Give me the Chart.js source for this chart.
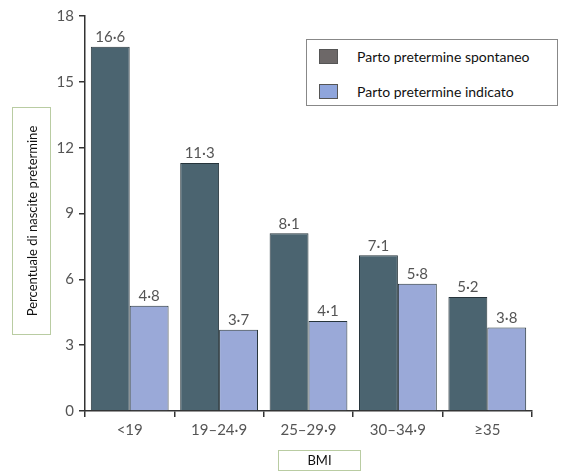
<!DOCTYPE html>
<html>
<head>
<meta charset="utf-8">
<script src="https://cdn.jsdelivr.net/npm/chart.js@4.4.1/dist/chart.umd.min.js"></script>
<style>
  html, body { margin: 0; padding: 0; background: #fff; }
  #wrap { position: relative; width: 563px; height: 473px; font-family: Lato, 'Open Sans', sans-serif; }
  #chart { position: absolute; left: 0; top: 0; }
  .legend { position: absolute; left: 306px; top: 39px; width: 252px; height: 67px; border: 1px solid #888; box-sizing: border-box; background: #fff; }
  .legend .row { position: absolute; left: 12px; display: flex; align-items: center; font-size: 14px; color: #111; }
  .legend .sw { width: 19px; height: 15px; border: 1px solid #555; box-sizing: border-box; margin-right: 19px; }
  .ybox { position: absolute; left: 12px; top: 107px; width: 39px; height: 228px; border: 1px solid #b9cca2; box-sizing: border-box; }
  .ybox span { position: absolute; left: 50%; top: 50%; transform: translate(-50%, -50%) rotate(-90deg); white-space: nowrap; font-size: 13px; color: #111; }
  .xbox { position: absolute; left: 278px; top: 450px; width: 83px; height: 21px; border: 1px solid #b9cca2; box-sizing: border-box; text-align: center; line-height: 19px; font-size: 13px; color: #111; }
</style>
</head>
<body>
<div id="wrap">
  <canvas id="chart" width="563" height="473"></canvas>
  <div class="legend">
    <div class="row" style="top:8px"><div class="sw" style="background:#6d6868"></div>Parto pretermine spontaneo</div>
    <div class="row" style="top:43px"><div class="sw" style="background:#8fa5dc"></div>Parto pretermine indicato</div>
  </div>
  <div class="ybox"><span>Percentuale di nascite pretermine</span></div>
  <div class="xbox">BMI</div>
</div>
<script>
// ---------- Data ----------
const categories = ['<19', '19–24·9', '25–29·9', '30–34·9', '≥35'];
const spontaneo = [16.6, 11.3, 8.1, 7.1, 5.2];
const indicato = [4.8, 3.7, 4.1, 5.8, 3.8];
const yTicks = [0, 3, 6, 9, 12, 15, 18];

const fmt = (v) => v.toFixed(1).replace('.', '·');

// Value labels above each bar
const valueLabels = {
  id: 'valueLabels',
  afterDatasetsDraw(chart) {
    const ctx = chart.ctx;
    ctx.save();
    ctx.font = "15px Lato, 'Open Sans', sans-serif";
    ctx.fillStyle = '#555';
    ctx.textAlign = 'center';
    ctx.textBaseline = 'bottom';
    chart.data.datasets.forEach((ds, i) => {
      chart.getDatasetMeta(i).data.forEach((bar, j) => {
        ctx.fillText(fmt(ds.data[j]), bar.x, bar.y - 2);
      });
    });
    ctx.restore();
  }
};

Chart.defaults.font.family = "Lato, 'Open Sans', sans-serif";

new Chart(document.getElementById('chart'), {
  type: 'bar',
  data: {
    labels: categories,
    datasets: [
      {
        label: 'Parto pretermine spontaneo',
        data: spontaneo,
        backgroundColor: '#4b6470',
        borderColor: '#26343b',
        borderWidth: 1,
        borderSkipped: 'bottom',
        categoryPercentage: 0.87,
        barPercentage: 1
      },
      {
        label: 'Parto pretermine indicato',
        data: indicato,
        backgroundColor: '#9aa9d8',
        borderColor: '#26343b',
        borderWidth: 1,
        borderSkipped: 'bottom',
        categoryPercentage: 0.87,
        barPercentage: 1
      }
    ]
  },
  options: {
    responsive: false,
    animation: false,
    layout: { padding: { top: 16, right: 31, left: 0, bottom: 0 } },
    plugins: {
      legend: { display: false },
      tooltip: { enabled: false }
    },
    scales: {
      x: {
        offset: true,
        grid: { display: true, offset: true, drawOnChartArea: false, drawTicks: true, tickLength: 6, color: '#333', lineWidth: 1.5 },
        border: { display: true, color: '#333', width: 1.5 },
        ticks: { color: '#555', font: { size: 15 }, padding: 4 },
        afterFit: (s) => { s.height = 62; }
      },
      y: {
        min: 0,
        max: 18,
        afterBuildTicks: (s) => { s.ticks = yTicks.map(v => ({ value: v })); },
        grid: { display: true, drawOnChartArea: false, drawTicks: true, tickLength: 6, color: '#333', lineWidth: 1.5 },
        border: { display: true, color: '#333', width: 1.5 },
        ticks: { color: '#555', font: { size: 15 }, padding: 5 },
        afterFit: (s) => { s.width = 85; }
      }
    }
  },
  plugins: [valueLabels]
});
</script>
</body>
</html>
